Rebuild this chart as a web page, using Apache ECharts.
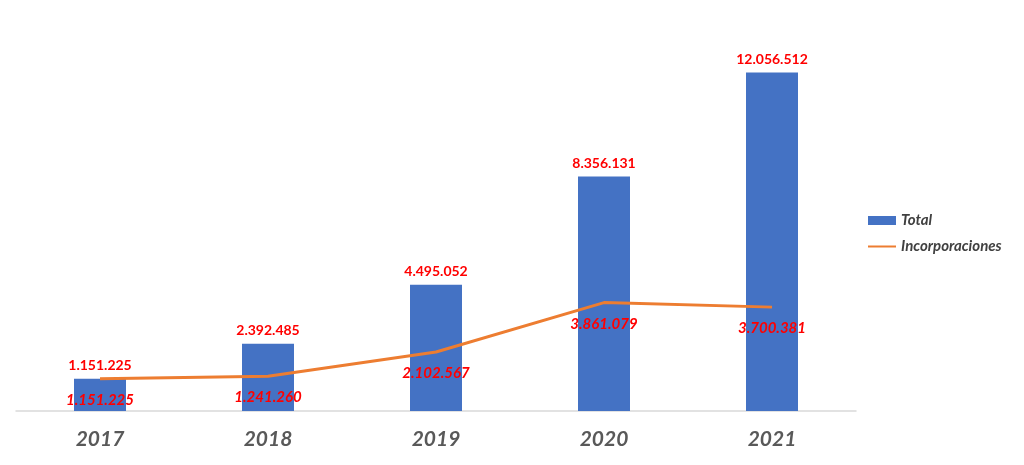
<!DOCTYPE html>
<html><head><meta charset="utf-8">
<script src="https://cdn.jsdelivr.net/npm/echarts@6/dist/echarts.min.js"></script>
<style>html,body{margin:0;padding:0;background:#fff}#c{width:1024px;height:465px}</style>
</head><body><div id="c"></div>
<script>
var categories = ['2017','2018','2019','2020','2021'];
var totalValues = [1151225, 2392485, 4495052, 8356131, 12056512];
var incorporacionesValues = [1151225, 1241260, 2102567, 3861079, 3700381];

function fmt(v){ return String(v).replace(/\B(?=(\d{3})+(?!\d))/g, '.'); }

var chart = echarts.init(document.getElementById('c'));
chart.setOption({
  animation: false,
  backgroundColor: '#fff',
  grid: { left: 16, right: 168, top: 18, bottom: 54 },
  legend: {
    orient: 'vertical', left: 863, top: 208, itemGap: 11,
    itemWidth: 28, itemHeight: 9,
    textStyle: { fontFamily: 'Lato', fontStyle: 'italic', fontWeight: 'bold', fontSize: 15, color: '#404040' },
    data: [
      { name: 'Total', icon: 'rect' },
      { name: 'Incorporaciones', icon: 'path://M0,4 L28,4 L28,6 L0,6 Z' }
    ]
  },
  xAxis: {
    type: 'category', data: categories,
    axisLine: { lineStyle: { color: '#d9d9d9', width: 1.5 } },
    axisTick: { show: false },
    axisLabel: { margin: 18, fontFamily: 'Lato', fontStyle: 'italic', fontWeight: 'bold', fontSize: 21, color: '#595959' }
  },
  yAxis: {
    type: 'value', min: 0, max: 14000000, show: false, splitLine: { show: false }
  },
  series: [
    {
      name: 'Total', type: 'bar', data: totalValues, barWidth: 52,
      itemStyle: { color: '#4472C4' },
      label: { show: true, position: 'top', distance: 6, formatter: function(p){return fmt(p.value);},
        fontFamily: 'Lato', fontWeight: 'bold', fontSize: 14, color: '#FF0000' }
    },
    {
      name: 'Incorporaciones', type: 'line', data: incorporacionesValues,
      symbol: 'circle', symbolSize: 0, showSymbol: true,
      lineStyle: { color: '#ED7D31', width: 3 }, itemStyle: { color: '#ED7D31' },
      label: { show: true, position: 'bottom', distance: 14, formatter: function(p){return fmt(p.value);},
        fontFamily: 'Lato', fontWeight: 'bold', fontStyle: 'italic', fontSize: 15, color: '#FF0000' }
    }
  ]
});
</script></body></html>
